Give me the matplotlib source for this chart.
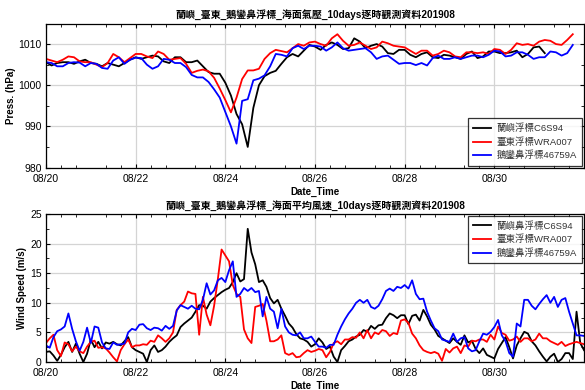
import numpy as np
import pandas as pd
import matplotlib
matplotlib.use("Agg")
import matplotlib.pyplot as plt
import matplotlib.dates as mdates

plt.rcParams['font.family'] = ['Liberation Sans', 'Noto Sans CJK TC', 'DejaVu Sans']

# ---- hourly buoy records, sampled every 3 h (pressure) / 2 h (wind) ----
labels_p = ['蘭嶼浮標C6S94', '臺東浮標WRA007', '鵝鑾鼻浮標46759A']
labels_w = ['蘭嶼鼻浮標C6S94', '臺東浮標WRA007', '鵝鑾鼻浮標46759A']
colors = ['black', 'red', 'blue']

press_c6s94 = [
    1005.6, 1004.8, 1005.4, 1005.6, 1005.6, 1005.2, 1005.8, 1006.2,
    1005.4, 1005.2, 1004.6, 1005.4, 1005.0, 1004.6, 1005.4, 1006.2,
    1006.8, 1006.4, 1006.8, 1007.2, 1007.0, 1005.8, 1005.4, 1006.8,
    1006.8, 1005.6, 1005.6, 1006.0, 1004.6, 1003.2, 1002.8, 1002.8,
    1000.6, 997.5, 993.0, 990.5, 985.0, 994.5, 1000.0, 1002.2,
    1003.0, 1003.5, 1005.2, 1006.8, 1007.6, 1007.0, 1008.4, 1009.8,
    1009.4, 1008.6, 1009.8, 1010.4, 1009.8, 1008.8, 1009.0, 1011.4,
    1010.6, 1009.0, 1009.6, 1010.0, 1009.4, 1007.8, 1007.6, 1008.6,
    1008.6, 1007.4, 1006.8, 1007.6, 1008.0, 1006.8, 1006.6, 1007.4,
    1007.2, 1006.8, 1006.4, 1007.6, 1008.2, 1006.6, 1007.0, 1008.2,
    1008.2, 1007.8, 1007.8, 1008.0, 1008.4, 1006.8, 1007.6, 1009.2,
    1009.4, 1007.8,
]
press_wra007 = [
    1006.4, 1006.0, 1005.6, 1006.2, 1007.0, 1006.8, 1005.8, 1005.6,
    1005.6, 1005.0, 1004.4, 1005.4, 1007.6, 1006.8, 1005.6, 1006.6,
    1007.6, 1007.6, 1007.0, 1006.6, 1008.2, 1007.6, 1006.2, 1006.4,
    1006.6, 1005.2, 1003.0, 1003.5, 1003.8, 1003.4, 1001.8, 999.2,
    996.4, 993.4, 997.0, 1001.5, 1003.6, 1003.6, 1004.0, 1006.4,
    1007.8, 1008.6, 1008.3, 1008.0, 1009.0, 1010.0, 1009.6, 1010.4,
    1010.6, 1010.0, 1009.6, 1011.4, 1012.4, 1010.8, 1009.6, 1009.8,
    1010.4, 1009.6, 1008.8, 1009.2, 1010.6, 1010.2, 1009.6, 1009.4,
    1009.2, 1008.4, 1007.6, 1008.4, 1008.4, 1007.2, 1007.6, 1008.4,
    1008.0, 1007.0, 1006.8, 1008.0, 1008.0, 1007.8, 1008.0, 1007.6,
    1008.8, 1008.6, 1007.6, 1008.6, 1010.2, 1009.8, 1010.0, 1009.6,
    1010.6, 1011.0, 1010.8, 1010.0, 1009.8, 1011.0, 1012.4,
]
press_46759a = [
    1005.6, 1005.4, 1004.6, 1004.6, 1005.4, 1005.6, 1005.5, 1004.6,
    1005.4, 1005.2, 1004.2, 1004.0, 1006.0, 1006.8, 1005.2, 1006.2,
    1006.7, 1006.6, 1005.0, 1004.0, 1004.6, 1006.4, 1006.2, 1005.4,
    1005.4, 1004.4, 1002.5, 1001.9, 1001.9, 1000.8, 999.0, 997.0,
    993.5, 990.0, 985.8, 996.2, 996.6, 1001.2, 1001.6, 1002.4,
    1004.6, 1007.6, 1007.4, 1007.0, 1009.0, 1009.6, 1008.8, 1009.6,
    1009.6, 1009.4, 1008.4, 1009.2, 1010.4, 1009.0, 1008.4, 1008.6,
    1008.8, 1009.0, 1008.0, 1006.4, 1007.0, 1007.2, 1006.2, 1005.2,
    1005.4, 1005.4, 1004.9, 1005.4, 1004.8, 1006.6, 1007.2, 1006.4,
    1006.4, 1006.8, 1006.4, 1006.8, 1007.2, 1007.2, 1006.8, 1007.4,
    1008.4, 1008.2, 1007.0, 1007.2, 1008.0, 1008.0, 1007.4, 1006.4,
    1006.8, 1006.8, 1008.2, 1008.0, 1007.2, 1007.8, 1009.8,
]

wind_c6s94 = [
    1.7, 1.8, 1.1, 0.2, 1.2, 2.5, 3.4, 1.7, 3.1, 1.4, 0.0, 1.4,
    3.8, 2.5, 3.4, 2.3, 3.3, 3.1, 3.4, 3.0, 2.8, 3.5, 4.2, 2.5,
    2.0, 1.7, 1.4, 0.0, 2.0, 2.8, 1.7, 2.0, 2.6, 3.4, 4.0, 4.5,
    5.9, 6.5, 7.0, 7.5, 8.5, 9.6, 9.5, 9.0, 10.2, 10.8, 11.3, 11.8,
    12.2, 12.5, 13.5, 15.0, 13.6, 14.0, 22.5, 18.5, 16.5, 13.5, 13.8, 12.7,
    10.8, 9.9, 10.5, 9.0, 7.8, 6.5, 5.8, 4.7, 4.0, 3.8, 3.4, 2.6,
    3.0, 4.0, 3.3, 2.2, 2.6, 0.9, 0.0, 2.0, 2.7, 3.5, 3.8, 4.3,
    4.6, 5.4, 5.1, 6.1, 5.6, 6.2, 6.3, 7.4, 8.2, 7.9, 7.4, 7.9,
    7.9, 6.4, 7.8, 8.0, 7.0, 8.8, 7.7, 6.3, 5.5, 4.4, 4.0, 3.6,
    3.2, 4.0, 3.4, 2.9, 4.5, 3.3, 3.6, 2.2, 1.5, 2.3, 1.2, 0.9,
    0.6, 2.2, 3.2, 4.2, 2.5, 0.6, 2.8, 4.0, 5.1, 4.8, 3.5, 2.8,
    1.8, 0.9, 0.1, 0.9, 1.4, 0.0, 0.5, 1.5, 1.5, 0.5, 8.5, 3.2,
    2.0,
]
wind_wra007 = [
    3.2, 4.0, 4.6, 2.0, 1.0, 3.3, 3.0, 1.8, 2.6, 1.8, 1.5, 2.6,
    3.4, 3.6, 2.4, 2.5, 2.3, 1.6, 0.8, 0.1, 2.0, 3.0, 3.8, 2.5,
    2.8, 2.8, 3.0, 2.9, 3.6, 3.4, 4.5, 4.0, 3.4, 4.0, 5.0, 8.8,
    9.6, 10.2, 11.9, 11.6, 11.5, 4.6, 11.0, 8.0, 6.2, 9.5, 14.0, 19.0,
    18.0, 17.0, 13.0, 11.5, 11.0, 5.5, 4.0, 3.2, 9.3, 9.5, 9.8, 7.0,
    3.5, 3.5, 3.8, 4.5, 1.5, 1.2, 1.5, 0.8, 0.9, 1.5, 2.0, 1.7,
    1.9, 2.2, 2.0, 0.8, 1.7, 3.2, 3.5, 3.0, 3.8, 3.8, 4.2, 4.1,
    5.0, 4.0, 5.4, 4.0, 5.0, 4.7, 5.4, 5.2, 4.4, 4.9, 4.7, 7.0,
    7.2, 6.6, 4.8, 4.0, 2.8, 2.0, 1.7, 1.5, 1.7, 1.4, 0.2, 2.2,
    1.6, 2.3, 2.6, 1.5, 2.8, 2.6, 3.6, 3.5, 3.8, 3.8, 3.4, 4.6,
    3.8, 6.0, 4.9, 4.6, 3.6, 3.8, 4.3, 3.4, 4.0, 4.0, 3.5, 3.8,
    4.8, 4.0, 4.0, 3.5, 3.2, 2.9, 3.4, 2.7, 3.0, 3.2, 3.4, 3.2,
    3.0,
]
wind_46759a = [
    2.8, 2.4, 4.2, 5.2, 5.5, 6.0, 8.2, 5.6, 3.5, 1.9, 3.4, 5.8,
    3.2, 6.0, 5.8, 3.3, 2.3, 2.2, 3.3, 2.9, 3.0, 3.1, 5.0, 5.6,
    5.4, 6.3, 6.4, 5.7, 5.4, 5.8, 5.7, 5.3, 6.1, 5.6, 6.1, 8.7,
    9.6, 9.3, 9.0, 9.5, 9.0, 8.9, 10.5, 13.3, 11.4, 12.1, 13.8, 14.2,
    13.5, 15.5, 17.0, 11.0, 11.5, 12.5, 12.0, 12.5, 11.8, 12.0, 7.7, 11.0,
    9.0, 8.5, 5.7, 9.0, 6.0, 5.0, 4.6, 4.5, 5.0, 4.0, 4.0, 4.3,
    3.4, 2.6, 2.6, 2.4, 2.9, 2.9, 4.6, 6.0, 7.2, 8.2, 9.0, 10.0,
    10.5, 10.0, 10.5, 9.3, 9.0, 9.5, 10.6, 12.0, 12.4, 12.0, 12.7, 12.5,
    13.0, 12.4, 13.8, 11.5, 10.6, 10.7, 8.5, 7.0, 5.7, 5.2, 3.8, 3.6,
    3.4, 4.8, 3.4, 4.0, 4.2, 2.3, 1.8, 2.0, 3.5, 4.8, 4.6, 5.1,
    5.9, 7.1, 4.5, 3.5, 1.5, 0.9, 6.5, 6.0, 10.5, 10.5, 9.5, 8.9,
    9.8, 10.6, 11.3, 10.0, 11.0, 9.3, 10.5, 10.8, 8.5, 6.5, 4.5, 4.5,
    4.4,
]

pressure = [press_c6s94, press_wra007, press_46759a]
wind = [wind_c6s94, wind_wra007, wind_46759a]

start = pd.Timestamp('2019-08-20 00:00')
end = pd.Timestamp('2019-09-01 00:00')
day_ticks = pd.date_range('2019-08-20', '2019-08-30', freq='2D')

fig = plt.figure(figsize=(5.85, 3.9), dpi=100)
ax1 = fig.add_axes([0.0786, 0.5705, 0.9197, 0.3692])
ax2 = fig.add_axes([0.0786, 0.0718, 0.9197, 0.3795])

for vals, lab, c in zip(pressure, labels_p, colors):
    t = pd.date_range(start, periods=len(vals), freq='3h')
    ax1.plot(t, vals, color=c, lw=1.3, label=lab)

for vals, lab, c in zip(wind, labels_w, colors):
    t = pd.date_range(start, periods=len(vals), freq='2h')
    ax2.plot(t, vals, color=c, lw=1.3, label=lab)

ax1.set_ylim(980, 1015)
ax1.set_yticks([980, 990, 1000, 1010])
ax1.set_ylabel('Press. (hPa)', fontsize=7, fontweight='bold', labelpad=2)
ax1.set_title('蘭嶼_臺東_鵝鑾鼻浮標_海面氣壓_10days逐時觀測資料201908',
              fontsize=7.2, fontweight='bold', pad=4)

ax2.set_ylim(0, 25)
ax2.set_yticks([0, 5, 10, 15, 20, 25])
ax2.set_ylabel('Wind Speed (m/s)', fontsize=7, fontweight='bold', labelpad=2)
ax2.set_title('蘭嶼_臺東_鵝鑾鼻浮標_海面平均風速_10days逐時觀測資料201908',
              fontsize=7.2, fontweight='bold', pad=4)

for ax, loc in ((ax1, 'lower right'), (ax2, 'upper right')):
    ax.set_xlim(start, end)
    ax.set_xticks(day_ticks)
    ax.xaxis.set_major_formatter(mdates.DateFormatter('%m/%d'))
    ax.xaxis.set_minor_locator(mdates.HourLocator(byhour=[8, 16]))
    ax.yaxis.set_minor_locator(matplotlib.ticker.AutoMinorLocator(2))
    ax.tick_params(which='both', direction='in', top=True, right=True,
                   labelsize=7.5)
    ax.tick_params(axis='x', pad=4.5)
    ax.tick_params(axis='y', pad=3)
    ax.tick_params(which='major', length=3)
    ax.tick_params(which='minor', length=2)
    ax.grid(True, which='major', color='#d4d4d4', lw=0.9)
    ax.set_axisbelow(True)
    ax.set_xlabel('Date_Time', fontsize=7, fontweight='bold', labelpad=2)
    for sp in ax.spines.values():
        sp.set_linewidth(0.9)
    leg = ax.legend(loc=loc, fontsize=6.8, frameon=True, fancybox=False,
                    edgecolor='black', borderaxespad=0.2, handlelength=1.9,
                    labelspacing=0.42, borderpad=0.55, handletextpad=0.6)
    leg.get_frame().set_linewidth(0.9)
    for txt in leg.get_texts():
        txt.set_color('#333333')

fig.savefig('out.png', dpi=100)
